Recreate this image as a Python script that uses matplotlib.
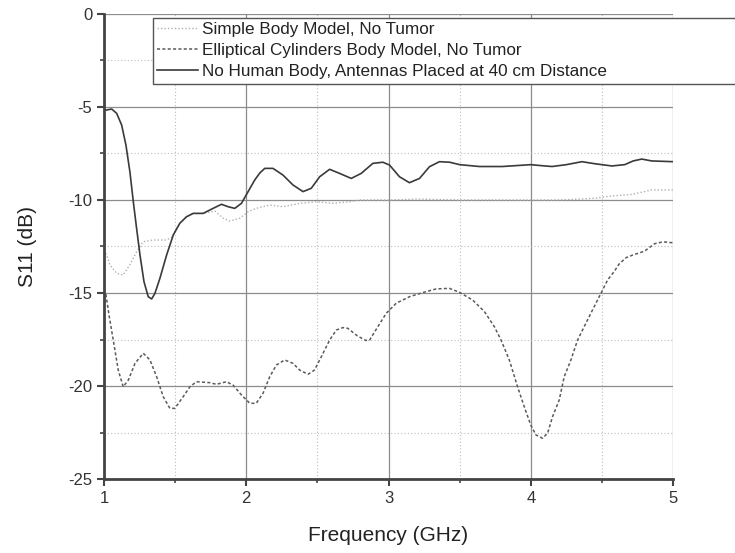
import numpy as np
import matplotlib
matplotlib.use("Agg")
from matplotlib import pyplot as plt
from matplotlib.ticker import MultipleLocator

plt.rcParams['font.family'] = ['Liberation Sans', 'DejaVu Sans']
plt.rcParams['axes.unicode_minus'] = False

# No Human Body, antennas at 40 cm
f_air = [1.0, 1.019, 1.054, 1.089, 1.124, 1.154, 1.182, 1.206, 1.229, 1.253, 1.281, 1.311, 1.335,
         1.358, 1.393, 1.44, 1.487, 1.533, 1.58, 1.627, 1.697, 1.767, 1.826, 1.872, 1.919, 1.966,
         2.013, 2.06, 2.095, 2.13, 2.188, 2.258, 2.328, 2.399, 2.457, 2.516, 2.586, 2.656, 2.738,
         2.808, 2.89, 2.96, 3.007, 3.077, 3.147, 3.218, 3.288, 3.358, 3.43, 3.5, 3.64, 3.8, 3.9,
         4.0, 4.07, 4.15, 4.25, 4.36, 4.45, 4.57, 4.66, 4.72, 4.78, 4.85, 5.0]
s_air = [-5.2, -5.16, -5.11, -5.34, -5.97, -7.04, -8.48, -10.09, -11.52, -12.96, -14.39, -15.2,
         -15.32, -15.02, -14.21, -12.96, -11.88, -11.25, -10.9, -10.72, -10.72, -10.45, -10.23,
         -10.36, -10.45, -10.18, -9.55, -8.92, -8.55, -8.3, -8.3, -8.66, -9.19, -9.55, -9.37,
         -8.75, -8.35, -8.57, -8.84, -8.57, -8.03, -7.97, -8.12, -8.75, -9.07, -8.84, -8.21, -7.94,
         -7.97, -8.1, -8.2, -8.2, -8.15, -8.1, -8.15, -8.2, -8.1, -7.94, -8.05, -8.17, -8.1, -7.9,
         -7.8, -7.9, -7.94]

# Simple body model
f_simple = [1.0, 1.019, 1.042, 1.089, 1.135, 1.18, 1.23, 1.276, 1.346, 1.44, 1.475, 1.533, 1.58,
            1.627, 1.697, 1.78, 1.837, 1.884, 1.954, 2.013, 2.07, 2.165, 2.258, 2.376, 2.49, 2.61,
            2.73, 2.8, 3.0, 3.2, 3.5, 3.8, 4.0, 4.2, 4.35, 4.45, 4.55, 4.71, 4.85, 5.0]
s_simple = [-12.7, -12.96, -13.5, -13.94, -14.03, -13.5, -12.78, -12.24, -12.15, -12.15, -12.0,
            -11.25, -10.9, -10.72, -10.72, -10.6, -10.98, -11.13, -10.98, -10.63, -10.45, -10.27,
            -10.36, -10.18, -10.09, -10.18, -10.09, -10.0, -10.0, -9.95, -10.0, -10.0, -10.0,
            -10.0, -9.95, -9.9, -9.8, -9.7, -9.46, -9.46]

# Elliptical cylinders body model
f_ell = [1.0, 1.014, 1.037, 1.065, 1.1, 1.135, 1.171, 1.218, 1.276, 1.323, 1.37, 1.416, 1.463,
         1.498, 1.557, 1.604, 1.65, 1.744, 1.79, 1.861, 1.907, 1.966, 2.025, 2.07, 2.118, 2.165,
         2.212, 2.27, 2.328, 2.375, 2.434, 2.48, 2.528, 2.586, 2.633, 2.68, 2.714, 2.78, 2.84,
         2.867, 2.925, 2.984, 3.054, 3.147, 3.24, 3.335, 3.428, 3.498, 3.592, 3.674, 3.744, 3.791,
         3.849, 3.907, 3.954, 4.0, 4.036, 4.083, 4.118, 4.153, 4.2, 4.235, 4.282, 4.329, 4.387,
         4.446, 4.493, 4.54, 4.586, 4.62, 4.67, 4.72, 4.8, 4.87, 4.93, 5.0]
s_ell = [-14.8, -15.1, -16.27, -17.53, -19.14, -20.04, -19.68, -18.78, -18.24, -18.6, -19.5,
         -20.57, -21.2, -21.2, -20.57, -20.04, -19.77, -19.82, -19.91, -19.77, -19.95, -20.48,
         -20.93, -20.93, -20.39, -19.5, -18.87, -18.6, -18.78, -19.14, -19.37, -19.14, -18.42,
         -17.53, -16.99, -16.86, -16.9, -17.3, -17.55, -17.53, -16.81, -16.09, -15.55, -15.2,
         -14.98, -14.78, -14.75, -14.96, -15.38, -16.0, -16.81, -17.53, -18.6, -20.04, -21.11,
         -22.1, -22.63, -22.81, -22.54, -21.65, -20.75, -19.5, -18.6, -17.53, -16.63, -15.73,
         -15.02, -14.3, -13.85, -13.45, -13.1, -12.95, -12.75, -12.35, -12.25, -12.3]

labels = ['Simple Body Model, No Tumor',
          'Elliptical Cylinders Body Model, No Tumor',
          'No Human Body, Antennas Placed at 40 cm Distance']

fig = plt.figure(figsize=(7.35, 5.53), dpi=100)
ax = fig.add_axes([0.1415, 0.1338, 0.7742, 0.8409])

ax.plot(f_simple, s_simple, color='#b0b0b0', lw=1.0, ls=(0, (1, 1.5)), label=labels[0])
ax.plot(f_ell, s_ell, color='#5a5a5a', lw=1.1, ls=(0, (2, 1.5)), label=labels[1])
ax.plot(f_air, s_air, color='#3a3a3a', lw=1.2, ls='-', label=labels[2])

ax.set_xlim(1, 5)
ax.set_ylim(-25, 0)
ax.xaxis.set_major_locator(MultipleLocator(1))
ax.xaxis.set_minor_locator(MultipleLocator(0.5))
ax.yaxis.set_major_locator(MultipleLocator(5))
ax.yaxis.set_minor_locator(MultipleLocator(2.5))

ax.grid(which='major', color='#8c8c8c', lw=0.9, ls='-')
ax.grid(which='minor', color='#bdbdbd', lw=0.8, ls=(0, (1, 2)))
ax.set_axisbelow(True)

for s in ['top', 'right']:
    ax.spines[s].set_visible(False)
for s in ['left', 'bottom']:
    ax.spines[s].set_color('#444444')
    ax.spines[s].set_linewidth(2.0)

ax.tick_params(which='major', direction='out', length=5, width=1.5, color='#444444',
               labelsize=12, labelcolor='#333333', pad=3.5)
ax.tick_params(which='minor', direction='out', length=3, width=1.2, color='#444444')

ax.set_xlabel('Frequency (GHz)', fontsize=15, color='#222222')
ax.set_ylabel('S11 (dB)', fontsize=15, color='#222222')
ax.xaxis.set_label_coords(0.5, -0.102)
ax.yaxis.set_label_coords(-0.118, 0.5)

# legend box runs off the right edge of the figure, as in the original
x0 = 153 / 735
top = 1 - 18 / 553
leg = ax.legend(loc='upper left', bbox_to_anchor=(x0, top - 0.2, 1.02 - x0, 0.2), mode='expand',
                bbox_transform=fig.transFigure, borderaxespad=0, fontsize=12.3,
                handlelength=2.4, handletextpad=0.2, labelspacing=0.35,
                frameon=True, fancybox=False, framealpha=1, edgecolor='#555555',
                borderpad=0.25)
leg.get_frame().set_linewidth(1.0)
for t in leg.get_texts():
    t.set_color('#222222')

fig.savefig('out.png', dpi=100)
